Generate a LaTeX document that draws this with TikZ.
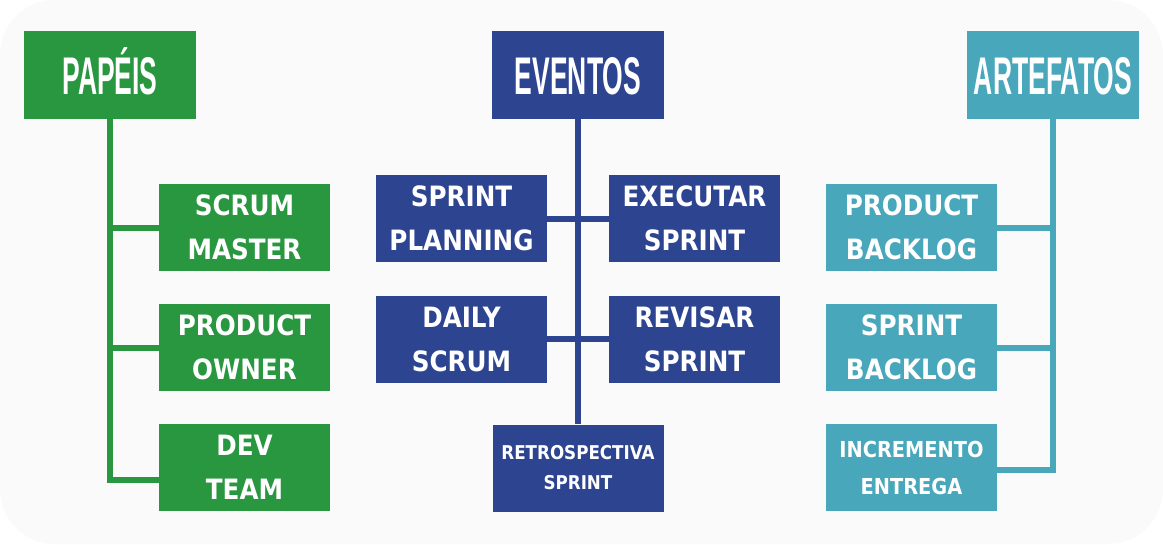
\documentclass[tikz,border=0pt]{standalone}
\usepackage{fontspec}
\setmainfont{DejaVu Sans}
\newfontfamily\headfont{Liberation Sans}[FakeStretch=0.5]
\newfontfamily\boxfont{DejaVu Sans}[FakeStretch=0.88]
\usetikzlibrary{calc}
\definecolor{papgreen}{RGB}{41,151,64}
\definecolor{evblue}{RGB}{45,69,145}
\definecolor{artteal}{RGB}{73,167,188}
\definecolor{bggray}{RGB}{250,250,250}

\begin{document}
\begin{tikzpicture}[x=1pt,y=-1pt,
	headbox/.style={fill=#1, text=white, inner sep=0pt, minimum width=172pt, minimum height=88pt, font=\headfont\bfseries\fontsize{53}{60}\selectfont, text height=38pt, text depth=0pt},
	itembox/.style={fill=#1, text=white, inner sep=0pt, minimum width=171pt, minimum height=87pt, align=center, font=\boxfont\bfseries\fontsize{28}{44}\selectfont},
	smalltext/.style={font=\boxfont\bfseries\fontsize{19}{30}\selectfont},
	midtext/.style={font=\boxfont\bfseries\fontsize{22}{37}\selectfont},
	conn/.style={draw=#1, line width=6pt}]
			\fill[white] (0,0) rectangle (1163,544);
			\fill[bggray, rounded corners=55pt] (0,0) rectangle (1163,544);
			\node[headbox=papgreen] (papeis) at (110,75) {PAPÉIS};
			\node[itembox=papgreen] (scrum) at (244.5,227.5) {SCRUM\\MASTER};
			\node[itembox=papgreen] (owner) at (244.5,347.5) {PRODUCT\\OWNER};
			\node[itembox=papgreen] (devteam) at (244.5,467.5) {DEV\\TEAM};
			\draw[conn=papgreen] (papeis.south) |- (scrum.west);
			\draw[conn=papgreen] (papeis.south) |- (owner.west);
			\draw[conn=papgreen] (papeis.south) |- ([yshift=-12.5pt]devteam.west);
			\node[headbox=evblue] (eventos) at (578,75) {EVENTOS};
			\node[itembox=evblue] (planning) at (461.5,218.5) {SPRINT\\PLANNING};
			\node[itembox=evblue] (executar) at (694.5,218.5) {EXECUTAR\\SPRINT};
			\node[itembox=evblue] (daily) at (461.5,339) {DAILY\\SCRUM};
			\node[itembox=evblue] (revisar) at (694.5,339) {REVISAR\\SPRINT};
			\node[itembox=evblue, smalltext] (retro) at (578,468) {RETROSPECTIVA\\SPRINT};
			\draw[conn=evblue] (eventos.south) -- (retro.north);
			\draw[conn=evblue] (planning.east) -- (executar.west);
			\draw[conn=evblue] (daily.east) -- (revisar.west);
			\node[headbox=artteal] (artefatos) at (1053,75) {ARTEFATOS};
			\node[itembox=artteal] (prodbacklog) at (911.5,227.5) {PRODUCT\\BACKLOG};
			\node[itembox=artteal] (sprbacklog) at (911.5,347.5) {SPRINT\\BACKLOG};
			\node[itembox=artteal, midtext] (incremento) at (911.5,467.5) {INCREMENTO\\ENTREGA};
			\draw[conn=artteal] (artefatos.south) |- (prodbacklog.east);
			\draw[conn=artteal] (artefatos.south) |- (sprbacklog.east);
			\draw[conn=artteal] (artefatos.south) |- ([yshift=-2.5pt]incremento.east);
		\end{tikzpicture}
\end{document}
